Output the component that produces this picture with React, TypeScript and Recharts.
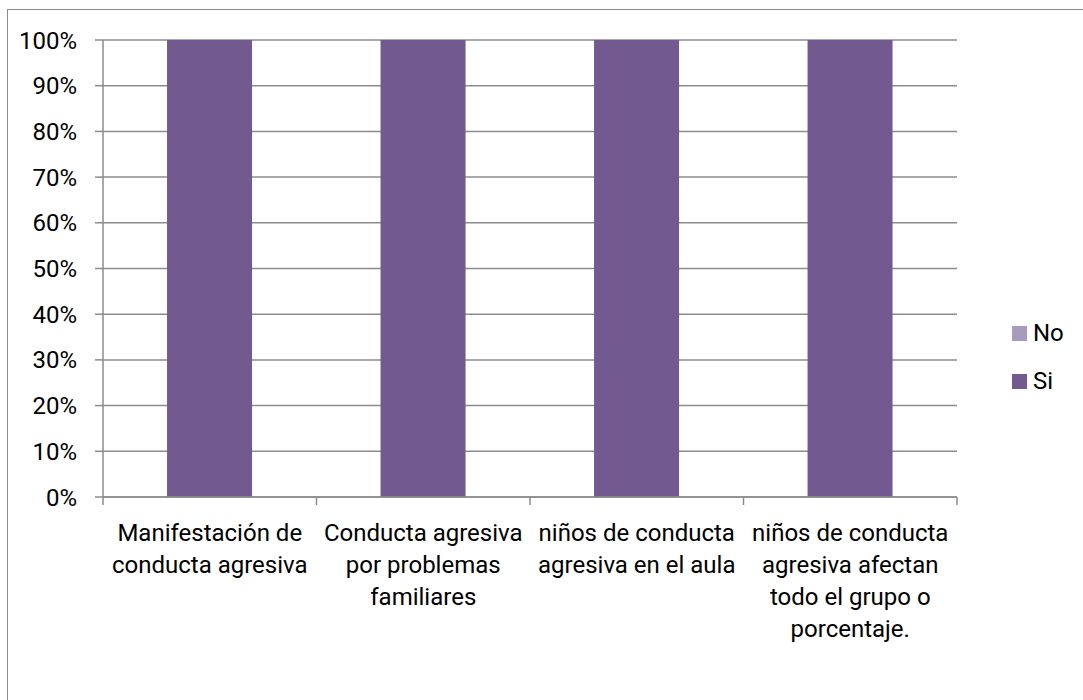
import React from 'react';
import { BarChart, Bar, XAxis, YAxis, CartesianGrid } from 'recharts';

const categories = [
  'Manifestación de\nconducta agresiva',
  'Conducta agresiva\npor problemas\nfamiliares',
  'niños de conducta\nagresiva en el aula',
  'niños de conducta\nagresiva afectan\ntodo el grupo o\nporcentaje.',
];
const siValues = [100, 100, 100, 100];
const noValues = [0, 0, 0, 0];
const yTicks = [0, 10, 20, 30, 40, 50, 60, 70, 80, 90, 100];

const series = [
  { key: 'Si', name: 'Si', color: '#725990', values: siValues },
  { key: 'No', name: 'No', color: '#A99BBD', values: noValues },
];

const data = categories.map((c, i) => {
  const row: any = { name: c };
  series.forEach(s => { row[s.key] = s.values[i]; });
  return row;
});

const FONT = 'Roboto, "Noto Sans", sans-serif';
const AXIS = '#8c8c8c';
const PLOT_W = 854;

const XTick = (props: any) => {
  const { x, y, payload, index } = props;
  const half = PLOT_W / categories.length / 2;
  const lines = String(payload.value).split('\n');
  return (
    <g>
      <line x1={x - half} x2={x - half} y1={y - 8} y2={y} stroke={AXIS} strokeWidth={1.5} />
      {index === categories.length - 1 && (
        <line x1={x + half} x2={x + half} y1={y - 8} y2={y} stroke={AXIS} strokeWidth={1.5} />
      )}
      <text x={x} y={y + 36} textAnchor="middle" fontFamily={FONT} fontSize={24} fill="#000">
        {lines.map((l, i) => (
          <tspan key={i} x={x} dy={i === 0 ? 0 : 32}>{l}</tspan>
        ))}
      </text>
    </g>
  );
};

export default function App() {
  const legendItems = [...series].reverse();
  return (
    <div style={{ position: 'absolute', left: 0, top: 0, width: 1083, height: 700, background: '#fff', overflow: 'hidden' }}>
      <div style={{ position: 'absolute', left: 7, top: 9, width: 1100, height: 720, border: '1.5px solid #8a8a8a', boxSizing: 'border-box' }} />
      <BarChart
        width={1083}
        height={700}
        data={data}
        margin={{ top: 40, right: 126, bottom: 53, left: 23 }}
        barCategoryGap="30%"
      >
        <CartesianGrid vertical={false} stroke={AXIS} strokeWidth={1.5} />
        <XAxis
          dataKey="name"
          height={150}
          interval={0}
          stroke={AXIS}
          strokeWidth={1.5}
          tickLine={false}
          tickSize={8}
          tickMargin={0}
          tick={<XTick />}
        />
        <YAxis
          width={80}
          domain={[0, 100]}
          ticks={yTicks}
          tickFormatter={(v: number) => `${v}%`}
          stroke={AXIS}
          strokeWidth={1.5}
          tickSize={8}
          tickMargin={18}
          tick={{ fill: '#000', fontSize: 24, fontFamily: FONT }}
        />
        {series.map(s => (
          <Bar key={s.key} dataKey={s.key} name={s.name} stackId="a" fill={s.color} isAnimationActive={false} />
        ))}
      </BarChart>
      {legendItems.map((s, i) => (
        <div
          key={s.key}
          style={{ position: 'absolute', left: 1012, top: 333 + i * 48 - 16, height: 32, display: 'flex', alignItems: 'center', fontFamily: FONT, fontSize: 24, color: '#000' }}
        >
          <span style={{ display: 'inline-block', width: 15, height: 15, background: s.color, marginRight: 6 }} />
          <span>{s.name}</span>
        </div>
      ))}
    </div>
  );
}
